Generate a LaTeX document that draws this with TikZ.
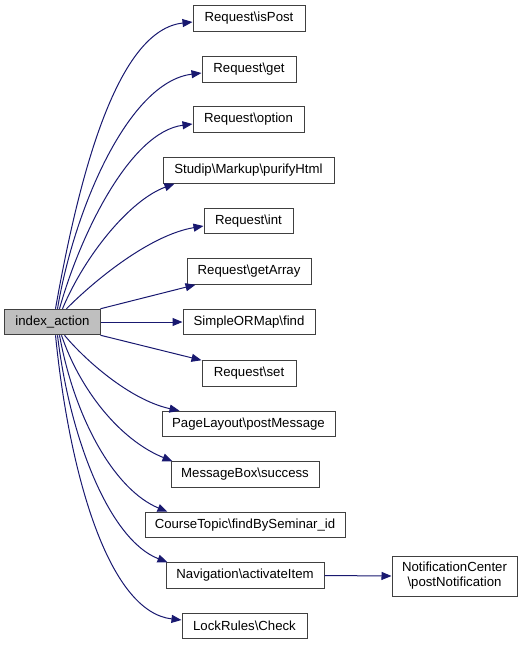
\documentclass[tikz,border=0pt]{standalone}
\usepackage{fontspec}
\setmainfont{Liberation Sans}
\usetikzlibrary{arrows.meta}
\definecolor{edgeblue}{HTML}{191970}
\definecolor{boxline}{HTML}{404040}
\definecolor{curfill}{HTML}{BFBFBF}
\newcommand{\bs}{\textbackslash}
\begin{document}
\begin{tikzpicture}[x=1bp,y=-1bp,
  fn/.style={draw=boxline, line width=1bp, fill=white, inner sep=0pt, minimum height=25.5bp,
    font=\fontsize{13.2bp}{15bp}\selectfont, text=black, align=center},
  cur/.style={fn, fill=curfill},
  call/.style={draw=edgeblue, line width=1bp, -{Triangle[length=10bp,width=8bp]}, fill=none}
]
\useasboundingbox (0,0) rectangle (531,645);
\node[cur, minimum width=95bp] (idx) at (52.5,322) {index\_action};
\node[fn, minimum width=112bp] (ispost) at (249,18.5) {Request\bs isPost};
\node[fn, minimum width=94bp] (get) at (249,69.5) {Request\bs get};
\node[fn, minimum width=111bp] (option) at (248.5,119.5) {Request\bs option};
\node[fn, minimum width=171bp] (purify) at (248.5,170.5) {Studip\bs Markup\bs purifyHtml};
\node[fn, minimum width=89bp] (int) at (248.5,221) {Request\bs int};
\node[fn, minimum width=124bp] (getarray) at (249,271.5) {Request\bs getArray};
\node[fn, minimum width=132bp] (find) at (249,322) {SimpleORMap\bs find};
\node[fn, minimum width=94bp] (set) at (249,373.5) {Request\bs set};
\node[fn, minimum width=173bp] (postmsg) at (248.5,424) {PageLayout\bs postMessage};
\node[fn, minimum width=148bp] (success) at (245,474.5) {MessageBox\bs success};
\node[fn, minimum width=200bp] (findby) at (245,525) {CourseTopic\bs findBySeminar\_id};
\node[fn, minimum width=158bp] (activate) at (245,575.5) {Navigation\bs activateItem};
\node[fn, minimum width=125bp] (lock) at (244.5,626) {LockRules\bs Check};
\node[fn, minimum width=125bp, minimum height=40bp] (notif) at (454.5,576) {NotificationCenter\\\bs postNotification};

\draw[call] ([xshift=51bp]idx.north west) .. controls (80,170) and (118,30) .. ([yshift=-3.5bp]ispost.west);
\draw[call] ([xshift=53bp]idx.north west) .. controls (74,210) and (128,82) .. ([yshift=-3.5bp]get.west);
\draw[call] ([xshift=55bp]idx.north west) .. controls (80,235) and (130,132) .. ([yshift=-4.5bp]option.west);
\draw[call] ([xshift=58bp]idx.north west) .. controls (85,255) and (130,200) .. ([xshift=12bp]purify.south west);
\draw[call] ([xshift=62bp]idx.north west) .. controls (95,280) and (150,235) .. ([yshift=-5bp]int.west);
\draw[call] (idx.north east) -- ([xshift=9bp]getarray.south west);
\draw[call] (idx.east) -- (find.west);
\draw[call] (idx.south east) -- (set.north west);
\draw[call] ([xshift=60bp]idx.south west) .. controls (85,360) and (130,400) .. ([xshift=18bp]postmsg.north west);
\draw[call] ([xshift=57bp]idx.south west) .. controls (80,390) and (120,440) .. ([xshift=2bp]success.north west);
\draw[call] ([xshift=55bp]idx.south west) .. controls (75,420) and (115,490) .. ([xshift=23bp]findby.north west);
\draw[call] ([xshift=53bp]idx.south west) .. controls (70,440) and (110,540) .. ([xshift=2bp]activate.north west);
\draw[call] ([xshift=51bp]idx.south west) .. controls (70,480) and (110,612) .. ([yshift=6bp]lock.west);
\draw[call] (activate.east) -- (notif.west);
\end{tikzpicture}
\end{document}
